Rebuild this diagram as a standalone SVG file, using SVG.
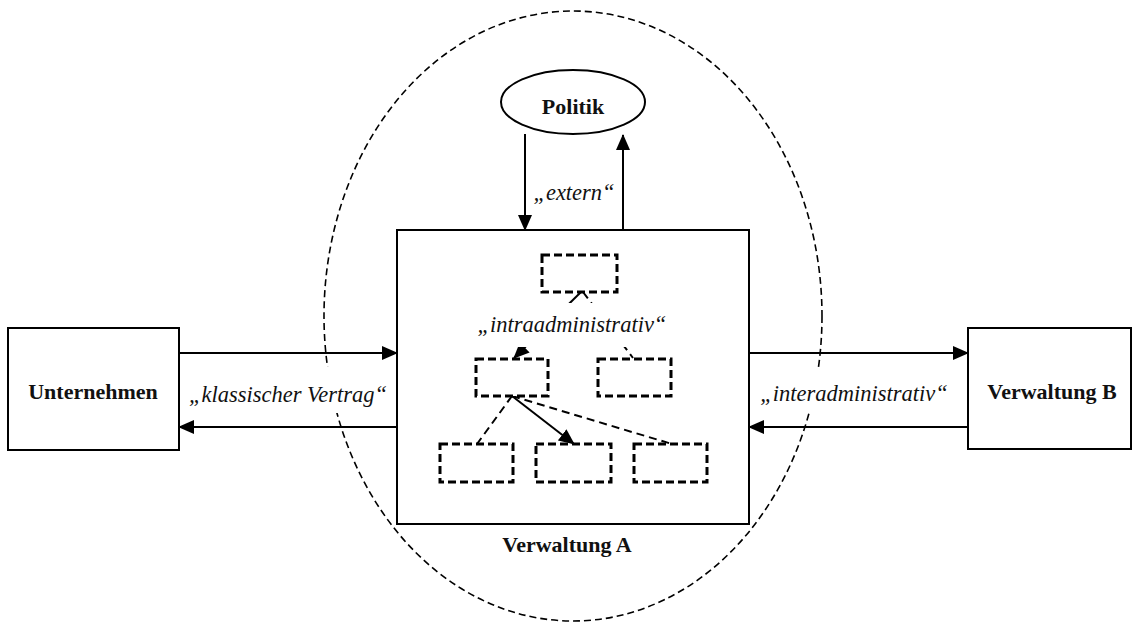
<svg xmlns="http://www.w3.org/2000/svg" width="1134" height="623" viewBox="0 0 1134 623">
  <defs>
    <marker id="head" markerUnits="userSpaceOnUse" markerWidth="16" markerHeight="14" refX="15" refY="7" orient="auto">
      <path d="M0,0 L16,7 L0,14 Z" fill="#000"/>
    </marker>
    <marker id="headSmall" markerUnits="userSpaceOnUse" markerWidth="16" markerHeight="14" refX="15" refY="7" orient="auto">
      <path d="M0,0 L16,7 L0,14 Z" fill="#000"/>
    </marker>
  </defs>
  <style>
    .box { fill: #fff; stroke: #000; stroke-width: 2; }
    .unit { fill: #fff; stroke: #000; stroke-width: 3; stroke-dasharray: 8 4; }
    .flow { fill: none; stroke: #000; stroke-width: 2; }
    .arrow { fill: none; stroke: #000; stroke-width: 2; marker-end: url(#head); }
    .link { fill: none; stroke: #000; stroke-width: 2; stroke-dasharray: 8 5; }
    .label { font-family: "Liberation Serif", "Times New Roman", serif; font-size: 22px; fill: #111; text-anchor: middle; }
    .bold { font-weight: bold; }
    .ital { font-style: italic; font-size: 22.5px; }
    .mask { fill: #fff; stroke: none; }
  </style>

  <!-- boundary of the administrative domain -->
  <g id="domain">
    <ellipse cx="573" cy="316" rx="249" ry="305" fill="none" stroke="#000" stroke-width="1.6" stroke-dasharray="7 4"/>
  </g>

  <!-- external connectors -->
  <g id="connectors">
    <line class="arrow" x1="525" y1="134" x2="525" y2="230"/>
    <line class="arrow" x1="623" y1="230" x2="623" y2="135"/>
    <line class="arrow" x1="179" y1="353" x2="397" y2="353"/>
    <line class="arrow" x1="397" y1="427" x2="179" y2="427"/>
    <line class="arrow" x1="749" y1="353" x2="968" y2="353"/>
    <line class="arrow" x1="968" y1="427" x2="749" y2="427"/>
  </g>

  <!-- connector labels -->
  <g id="labels">
    <rect class="mask" x="533" y="180" width="82" height="26"/>
    <text class="label ital" x="574" y="200">„extern“</text>
    <rect class="mask" x="184" y="367" width="208" height="46"/>
    <text class="label ital" x="288" y="402">„klassischer Vertrag“</text>
    <rect class="mask" x="756" y="367" width="196" height="46"/>
    <text class="label ital" x="854" y="401">„interadministrativ“</text>
  </g>

  <g id="politik">
    <ellipse cx="573" cy="102" rx="72" ry="32" fill="#fff" stroke="#000" stroke-width="2"/>
    <text class="label bold" x="573" y="114">Politik</text>
  </g>

  <g id="unternehmen">
    <rect class="box" x="8" y="328" width="171" height="122"/>
    <text class="label bold" x="93" y="399">Unternehmen</text>
  </g>

  <g id="verwaltung-b">
    <rect class="box" x="968" y="328" width="163" height="121"/>
    <text class="label bold" x="1052" y="399">Verwaltung B</text>
  </g>

  <g id="verwaltung-a">
    <rect class="box" x="397" y="230" width="352" height="294"/>
    <text class="label bold" x="567" y="552">Verwaltung A</text>

    <!-- internal hierarchy -->
    <g id="intra-connectors">
      <line class="flow" x1="581" y1="292" x2="514" y2="358" marker-end="url(#headSmall)"/>
      <line class="link" x1="583" y1="292" x2="633" y2="358"/>
      <line class="link" x1="512" y1="396" x2="477" y2="444"/>
      <line class="flow" x1="512" y1="396" x2="574" y2="444" marker-end="url(#headSmall)"/>
      <line class="link" x1="512" y1="396" x2="672" y2="444"/>
    </g>
    <rect class="mask" x="476" y="303" width="192" height="44"/>
    <text class="label ital" x="572" y="332">„intraadministrativ“</text>

    <g id="unit-top"><rect class="unit" x="542" y="255" width="75" height="37"/></g>
    <g id="unit-mid-left"><rect class="unit" x="476" y="359" width="72" height="37"/></g>
    <g id="unit-mid-right"><rect class="unit" x="598" y="359" width="73" height="37"/></g>
    <g id="unit-bottom-left"><rect class="unit" x="440" y="444" width="73" height="38"/></g>
    <g id="unit-bottom-mid"><rect class="unit" x="536" y="444" width="75" height="38"/></g>
    <g id="unit-bottom-right"><rect class="unit" x="634" y="444" width="73" height="38"/></g>
  </g>
</svg>
